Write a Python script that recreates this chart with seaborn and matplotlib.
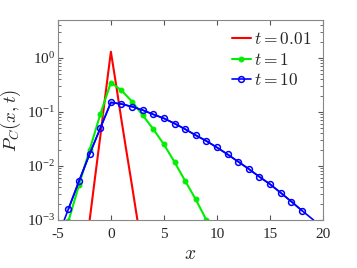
import numpy as np
import pandas as pd
import matplotlib
matplotlib.use('Agg')
import matplotlib.pyplot as plt
from matplotlib.ticker import FuncFormatter
import seaborn as sns

# t = 0.01 (continuous curve)
x_t001 = [-2.0, -1.5, -1.0, -0.5, 0.0, 0.5, 1.0, 1.5, 2.0, 2.5]
p_t001 = [1.0e-3, 6.0e-3, 3.5e-2, 0.22, 1.3, 0.31, 7.0e-2, 1.7e-2, 4.2e-3, 1.0e-3]

# t = 1 (filled markers)
x_t1 = [-4, -3, -2, -1, 0, 1, 2, 3, 4, 5, 6, 7, 8, 9]
p_t1 = [9.5e-4, 4.5e-3, 2.0e-2, 9.0e-2, 0.35, 0.25, 0.155, 8.7e-2, 4.8e-2,
        2.5e-2, 1.18e-2, 5.3e-3, 2.4e-3, 1.0e-3]

# t = 10 (open markers)
x_t10 = [-4, -3, -2, -1, 0, 1, 2, 3, 4, 5, 6, 7, 8, 9, 10, 11, 12, 13, 14,
         15, 16, 17, 18]
p_t10 = [1.6e-3, 5.3e-3, 1.66e-2, 5.0e-2, 0.15, 0.14, 0.125, 0.108, 9.0e-2,
         7.6e-2, 6.1e-2, 4.8e-2, 3.7e-2, 2.9e-2, 2.2e-2, 1.64e-2, 1.2e-2,
         8.8e-3, 6.3e-3, 4.6e-3, 3.2e-3, 2.2e-3, 1.5e-3]
# line continuation down to the axis edge
x_t10_ends = [-4.4, 19.1]
p_t10_ends = [1.0e-3, 1.0e-3]

sns.set_style("ticks")
plt.rcParams['font.family'] = ['Liberation Serif', 'DejaVu Serif']
plt.rcParams['mathtext.fontset'] = 'cm'
plt.rcParams['axes.unicode_minus'] = False

fig = plt.figure(figsize=(3.57, 2.68), dpi=100)
ax = fig.add_axes([0.162, 0.179, 0.743, 0.746])

df10 = pd.DataFrame({"x": [x_t10_ends[0]] + x_t10 + [x_t10_ends[1]],
                     "p": [p_t10_ends[0]] + p_t10 + [p_t10_ends[1]]})

sns.lineplot(x=x_t001, y=p_t001, color="#ff0000", lw=1.5, ax=ax,
             label=r"$t = 0.01$")
sns.lineplot(x=x_t1, y=p_t1, color="#00ee00", lw=1.5, marker="o",
             markersize=3.5, markeredgecolor="#00ee00", ax=ax, label=r"$t = 1$")
ax.plot(df10["x"], df10["p"], color="#0000ff", lw=1.2)
sns.lineplot(x=x_t10, y=p_t10, color="#0000ff", lw=1.2, marker="o",
             markersize=4.2, markerfacecolor="none", markeredgecolor="#0000ff",
             markeredgewidth=1.1, ax=ax, label=r"$t = 10$")

ax.set_yscale("log")
ax.set_xlim(-5, 20)
ax.set_ylim(1e-3, 5)
ax.set_xticks([-5, 0, 5, 10, 15, 20])
ax.set_yticks([1e-3, 1e-2, 1e-1, 1e0])
ax.yaxis.set_major_formatter(FuncFormatter(
    lambda v, pos: r"$\mathregular{10^{%d}}$" % round(np.log10(v))))
ax.set_xlabel(r"$x$", fontsize=14, labelpad=3)
ax.set_ylabel(r"$P_C(x,t)$", fontsize=13.5, labelpad=3)
ax.tick_params(which="both", direction="in", top=True, right=True,
               labelsize=11, color="#555555", pad=2)
ax.tick_params(axis="x", pad=6)
ax.tick_params(which="major", length=3.5)
ax.tick_params(which="minor", length=2)
for s in ax.spines.values():
    s.set_color("#888888")
    s.set_linewidth(0.8)

leg = ax.legend(loc="upper right", frameon=False, fontsize=12.5,
                handlelength=1.1, handletextpad=0.15, labelspacing=0.25,
                borderaxespad=0.3)

fig.savefig("out.png", dpi=100)
